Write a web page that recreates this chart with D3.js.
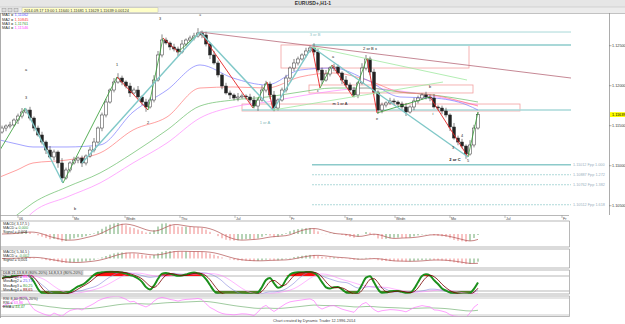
<!DOCTYPE html>
<html>
<head>
<meta charset="utf-8">
<script src="https://cdn.jsdelivr.net/npm/d3@7"></script>
<style>
  body { margin: 0; background: #fff; }
  svg { display: block; font-family: "Liberation Sans", Arial, sans-serif; }
</style>
</head>
<body>
<svg id="chart" width="625" height="324"></svg>
<script>
// hourly closes left to right
const closes = [
  1.11471,1.11496,1.11509,1.11571,1.11621,1.11671,1.11696,1.11596,1.11471,1.11384,
  1.11296,1.11196,1.11109,1.11171,1.11034,1.10846,1.10946,1.11034,1.11071,1.11096,
  1.11034,1.11121,1.11196,1.11296,1.11471,1.11634,1.11796,1.11946,1.12046,1.12096,
  1.12046,1.11996,1.11909,1.11946,1.11859,1.11796,1.11734,1.11821,1.12071,1.12384,
  1.12571,1.12534,1.12484,1.12459,1.12421,1.12521,1.12571,1.12596,1.12621,1.12659,
  1.12634,1.12521,1.12384,1.12284,1.12134,1.11996,1.11909,1.11884,1.11846,1.11859,
  1.11871,1.11859,1.11821,1.11746,1.11821,1.11946,1.12021,1.11884,1.11721,1.11821,
  1.11946,1.12096,1.12221,1.12284,1.12334,1.12384,1.12434,1.12471,1.12421,1.12196,
  1.12071,1.12146,1.12221,1.12234,1.12159,1.12071,1.12009,1.11946,1.11884,1.12034,
  1.12221,1.12334,1.12171,1.11921,1.11696,1.11759,1.11784,1.11809,1.11796,1.11771,
  1.11734,1.11671,1.11734,1.11809,1.11846,1.11884,1.11859,1.11846,1.11734,1.11721,
  1.11684,1.11634,1.11484,1.11346,1.11296,1.11246,1.11146,1.11259,1.11471,1.11639
];
// wick lengths above / below the body, in pips
const wickUp = [
  3,2,4,2,3,5,2,4,2,3, 4,2,5,3,2,6,3,2,4,2, 3,2,4,5,2,3,4,2,5,6,
  3,2,4,3,5,2,4,3,6,5, 7,3,2,4,3,5,2,3,4,6, 3,4,2,5,3,2,4,3,2,5,
  3,2,4,5,3,6,4,3,5,2, 3,4,2,5,3,2,4,3,6,4, 3,5,2,4,3,2,5,3,4,2,
  6,5,3,4,2,3,2,4,3,2, 3,5,2,4,3,2,4,3,5,2, 3,4,2,5,3,4,2,6,4,3
];
const wickDn = [
  2,4,3,2,5,3,2,3,4,2, 3,5,2,4,6,5,2,3,2,4, 5,3,2,3,2,4,3,2,3,2,
  4,3,5,2,3,4,6,2,3,2, 3,2,4,3,5,2,3,2,3,2, 4,3,5,2,3,4,2,5,3,4,
  2,3,4,3,6,2,3,5,4,3, 2,3,2,4,3,2,3,2,4,3, 5,2,3,4,2,5,3,2,3,4,
  2,3,4,3,5,4,3,2,4,3, 3,5,2,4,3,2,3,4,2,3, 4,3,5,2,4,3,6,2,3,2
];

// moving averages, sampled at these candle positions
const maIdx = [-0.5,3.75,7.75,16.25,24.5,32.75,41.25,49.5,57.75,66.25,74.5,82.75,91.25,99.5,107.75,116.25,119];
const ma1 = [1.11321,1.11271,1.11234,1.11234,1.11259,1.11671,1.11946,1.12259,1.12096,1.12009,1.12196,1.12221,1.12071,1.11859,1.11846,1.11759,1.11696];
const ma2 = [1.10859,1.10946,1.11034,1.11071,1.11159,1.11446,1.11609,1.11971,1.11984,1.11971,1.12109,1.12159,1.12071,1.11921,1.11884,1.11784,1.11746];
const ma3 = [1.10221,1.10384,1.10534,1.10734,1.10909,1.11159,1.11446,1.11746,1.11821,1.11859,1.11921,1.11971,1.11971,1.11921,1.11884,1.11821,1.11796];
const ma4 = [1.10009,1.10221,1.10421,1.10609,1.10784,1.11034,1.11284,1.11596,1.11734,1.11796,1.11871,1.11934,1.11971,1.11934,1.11871,1.11784,1.11759];

const priceTicks = [1.125, 1.12, 1.115, 1.11, 1.105];
const lastPrice = 1.11639;
const timeTickIdx = [4, 17.75, 30.75, 44.5, 58.25, 72, 85.75, 98.25, 112, 125.75, 140];
const timeTickText = ["06", "Mo", "Wedn", "Thu", "Jul", "Fr", "Sep", "Wedn", "Mo", "Jul", "Fr"];

// wave drawing: [i1, p1, i2, p2, kind]
const waveLines = [
  [-0.5,1.11196, 5.75,1.11721, "up"],
  [5.75,1.11721, 15.25,1.10784, "teal"],
  [15.25,1.10784, 28.75,1.12109, "up"],
  [28.75,1.12109, 36.5,1.11696, "down"],
  [36.5,1.11696, 40.25,1.12596, "up"],
  [40.25,1.12596, 44,1.12421, "down"],
  [44,1.12421, 49.5,1.12671, "up"],
  [49.5,1.12671, 62.75,1.11721, "down"],
  [62.75,1.11721, 66.25,1.12046, "up"],
  [66.25,1.12046, 67.75,1.11696, "down"],
  [67.75,1.11696, 77.5,1.12484, "teal"],
  [77.5,1.12484, 79.5,1.11971, "down"],
  [79.5,1.11971, 82.5,1.12259, "up"],
  [82.5,1.12259, 87.75,1.11859, "down"],
  [87.75,1.11859, 91.25,1.12346, "up"],
  [91.25,1.12346, 93.75,1.11659, "down"],
  [93.75,1.11659, 107,1.11859, "up"],
  [107,1.11859, 116.5,1.11109, "down"],
  [116.5,1.11109, 119,1.11671, "up"],
  [20,1.11034, 49.5,1.12671, "teal"],
  [49.5,1.12671, 67.75,1.11696, "teal"],
  [77.5,1.12484, 116.5,1.11109, "teal"],
  [67.75,1.11696, 110.25,1.12046, "light"],
  [77.5,1.12484, 116.25,1.12071, "light"],
  [49.5,1.12671, 142.25,1.12096, "trend"]
];
// horizontal levels: [from, to, price, weight]
const levels = [
  [49.5, 142.25, 1.12671, 1],
  [77.5, 142.25, 1.12509, 2.2],
  [60, 142.25, 1.11696, 1.4]
];
const boxes = [
  [69.75, 1.12509, 116.75, 1.12221],
  [76.75, 1.12009, 117.75, 1.11909],
  [60, 1.11771, 129.5, 1.11684]
];
const fibPrices = [1.11012, 1.10887, 1.10762, 1.10512];
const fibText = ["1.11012 Fpp 1.000", "1.10887 Fpp 1.272", "1.10762 Fpp 1.382", "1.10512 Fpp 1.618"];
const waveLabels = [
  [6, 1.11834, "3", "#222"], [6, 1.12184, "a", "#222"], [28.75, 1.12246, "1", "#222"],
  [36.5, 1.11521, "2", "#222"], [39.5, 1.12821, "3", "#222"], [49.5, 1.12871, "5", "#222"],
  [18.25, 1.10446, "b", "#222"], [65.75, 1.11521, "1 or A", "#7fb8b8"],
  [78.25, 1.12621, "3 or B", "#8cc4c4"], [92, 1.12446, "2 or B  x", "#222"],
  [84.5, 1.11759, "m    1 or A", "#222"], [107, 1.11971, "b", "#222"],
  [113.25, 1.11059, "2 or C", "#111"], [116.5, 1.11046, "5", "#222"],
  [115, 1.11359, "4", "#222"], [112.75, 1.11209, "3", "#222"],
  [82.75, 1.12346, "a", "#222"], [79, 1.11921, "c", "#222"],
  [107.75, 1.11634, "i", "#222"], [93.75, 1.11571, "e", "#222"]
];

const svg = d3.select("#chart");
const x = d3.scaleLinear().domain([-0.5, 151.75]).range([0, 609]);
const y = d3.scaleLinear().domain([1.105, 1.125]).range([205.7, 45.7]);
const n = closes.length;
const opens = closes.map((c, i) => i ? closes[i - 1] : 1.11421);
const highs = closes.map((c, i) => Math.max(c, opens[i]) + wickUp[i] * 0.0001);
const lows = closes.map((c, i) => Math.min(c, opens[i]) - wickDn[i] * 0.0001);

// window top bars
svg.append("rect").attr("width", 625).attr("height", 7).attr("fill", "#e6e6e6");
svg.append("text").attr("x", 313).attr("y", 5.3).attr("text-anchor", "middle")
  .attr("font-size", 5).attr("font-weight", "bold").attr("fill", "#333").text("EURUSD+,H1-1");
svg.append("rect").attr("y", 7).attr("width", 625).attr("height", 6).attr("fill", "#ececec");
svg.append("line").attr("x1", 0).attr("x2", 625).attr("y1", 13.5).attr("y2", 13.5).attr("stroke", "#999").attr("stroke-width", 0.6);
svg.append("line").attr("x1", 0).attr("x2", 625).attr("y1", 7).attr("y2", 7).attr("stroke", "#bbb").attr("stroke-width", 0.5);
[2, 8, 14].forEach(px => svg.append("rect").attr("x", px).attr("y", 8.3).attr("width", 4).attr("height", 3.6)
  .attr("fill", "#ddd").attr("stroke", "#888").attr("stroke-width", 0.4));
svg.append("rect").attr("x", 22).attr("y", 7.8).attr("width", 136).attr("height", 4.6)
  .attr("fill", "#ffffc8").attr("stroke", "#aaa").attr("stroke-width", 0.4);
svg.append("text").attr("x", 24).attr("y", 11.5).attr("font-size", 3.9).attr("fill", "#333")
  .text("2014.09.17 13:00   1.11640   1.11681   1.11629   1.11639   0.00124");

// frame
const frame = svg.append("g").attr("stroke", "#888").attr("stroke-width", 0.7);
frame.append("line").attr("x1", 0.5).attr("x2", 0.5).attr("y1", 13).attr("y2", 318);
frame.append("line").attr("x1", 609.5).attr("x2", 609.5).attr("y1", 13).attr("y2", 215);

svg.append("clipPath").attr("id", "mainClip").append("rect")
  .attr("x", 1).attr("y", 14).attr("width", 608).attr("height", 201);
const main = svg.append("g").attr("clip-path", "url(#mainClip)");

boxes.forEach(b => main.append("rect")
  .attr("x", x(b[0])).attr("y", y(b[1])).attr("width", x(b[2]) - x(b[0])).attr("height", y(b[3]) - y(b[1]))
  .attr("fill", "none").attr("stroke", "#f2a0a0").attr("stroke-width", 0.8));

levels.forEach(l => main.append("line")
  .attr("x1", x(l[0])).attr("x2", x(l[1])).attr("y1", y(l[2])).attr("y2", y(l[2]))
  .attr("stroke", "#a9d8d8").attr("stroke-width", l[3]));

fibPrices.forEach((p, i) => {
  main.append("line").attr("x1", x(77.5)).attr("x2", x(142.25)).attr("y1", y(p)).attr("y2", y(p))
    .attr("stroke", "#8ccaca").attr("stroke-width", i ? 0.7 : 1.4)
    .attr("stroke-dasharray", i ? "2,1" : null);
  main.append("text").attr("x", x(142.25) + 2).attr("y", y(p) + 1.4).attr("font-size", 3.8)
    .attr("fill", "#9ab0c0").text(fibText[i]);
});

const maLine = d3.line().x((d, i) => x(maIdx[i])).y(d => y(d)).curve(d3.curveMonotoneX);
[[ma4, "#ff88ff"], [ma3, "#66bb66"], [ma2, "#ff7777"], [ma1, "#7b7bff"]].forEach(([s, c]) =>
  main.append("path").attr("d", maLine(s)).attr("fill", "none").attr("stroke", c).attr("stroke-width", 0.7));

// candles
const cg = main.append("g");
d3.range(n).forEach(i => {
  const up = closes[i] >= opens[i];
  cg.append("line").attr("x1", x(i)).attr("x2", x(i)).attr("y1", y(highs[i])).attr("y2", y(lows[i]))
    .attr("stroke", "#333").attr("stroke-width", 0.6);
  const top = y(Math.max(opens[i], closes[i])), bot = y(Math.min(opens[i], closes[i]));
  cg.append("rect").attr("x", x(i) - 1.5).attr("y", top).attr("width", 3).attr("height", Math.max(0.8, bot - top))
    .attr("fill", up ? "#fff" : "#222").attr("stroke", "#333").attr("stroke-width", 0.5);
});

const waveColor = { up: "#2f9a2f", down: "#e42424", teal: "#80c8c8", light: "#9fe89f", trend: "#b86a7a" };
const waveWidth = { up: 0.8, down: 0.9, teal: 1.4, light: 0.8, trend: 0.8 };
waveLines.forEach(w => main.append("line")
  .attr("x1", x(w[0])).attr("y1", y(w[1])).attr("x2", x(w[2])).attr("y2", y(w[3]))
  .attr("stroke", waveColor[w[4]]).attr("stroke-width", waveWidth[w[4]]));

waveLabels.forEach(l => main.append("text").attr("x", x(l[0])).attr("y", y(l[1]))
  .attr("text-anchor", "middle").attr("font-size", l[2].length > 2 ? 4 : 3.8)
  .attr("font-weight", l[2] === "2 or C" ? "bold" : null).attr("fill", l[3]).text(l[2]));

// MA legend
[["MA1 = ", "1,11062", "#5050ff"], ["MA2 = ", "1,10845", "#ff4040"], ["MA3 = ", "1,11761", "#3a9a3a"], ["MA4 = ", "1,11546", "#ff44ff"]]
  .forEach((m, i) => {
    const t = svg.append("text").attr("x", 2).attr("y", 16.2 + i * 4.3).attr("font-size", 3.9).attr("fill", "#333");
    t.append("tspan").text(m[0]);
    t.append("tspan").attr("fill", m[2]).text(m[1]);
  });

// price axis
priceTicks.forEach(p => {
  svg.append("line").attr("x1", 609).attr("x2", 611.5).attr("y1", y(p)).attr("y2", y(p)).attr("stroke", "#666").attr("stroke-width", 0.5);
  svg.append("text").attr("x", 612).attr("y", y(p) + 1.4).attr("font-size", 3.8).attr("fill", "#333").text(p.toFixed(5));
});
svg.append("rect").attr("x", 610).attr("y", y(lastPrice) - 2.4).attr("width", 15).attr("height", 4.8).attr("fill", "#ffff00");
svg.append("text").attr("x", 612).attr("y", y(lastPrice) + 1.4).attr("font-size", 3.8).attr("fill", "#000").text(lastPrice.toFixed(5));

// time axis
svg.append("line").attr("x1", 0).attr("x2", 569).attr("y1", 215.5).attr("y2", 215.5).attr("stroke", "#999").attr("stroke-width", 0.7);
timeTickIdx.forEach((t, i) => {
  svg.append("line").attr("x1", x(t)).attr("x2", x(t)).attr("y1", 215.5).attr("y2", 218).attr("stroke", "#777").attr("stroke-width", 0.5);
  svg.append("text").attr("x", x(t) + 1).attr("y", 220.2).attr("font-size", 3.6).attr("fill", "#444").text(timeTickText[i]);
});

// indicator helpers
function ema(a, k) { const f = 2 / (k + 1), out = []; a.forEach((v, i) => out.push(i ? v * f + out[i - 1] * (1 - f) : v)); return out; }
function sma(a, k) { return a.map((v, i) => d3.mean(a.slice(Math.max(0, i - k + 1), i + 1))); }
function stoch(k, s) {
  const raw = closes.map((c, i) => {
    const hh = d3.max(highs.slice(Math.max(0, i - k + 1), i + 1)), ll = d3.min(lows.slice(Math.max(0, i - k + 1), i + 1));
    return hh > ll ? (c - ll) / (hh - ll) * 100 : 50;
  });
  return sma(raw, s);
}

function panelFrame(top, bottom) {
  svg.append("line").attr("x1", 0).attr("x2", 569.5).attr("y1", top).attr("y2", top).attr("stroke", "#999").attr("stroke-width", 0.7);
  svg.append("line").attr("x1", 0).attr("x2", 569.5).attr("y1", bottom).attr("y2", bottom).attr("stroke", "#999").attr("stroke-width", 0.7);
  svg.append("line").attr("x1", 569.5).attr("x2", 569.5).attr("y1", top).attr("y2", bottom).attr("stroke", "#999").attr("stroke-width", 0.7);
}
function panelText(x0, y0, rows) {
  rows.forEach((r, i) => {
    const t = svg.append("text").attr("x", x0).attr("y", y0 + i * 4.2).attr("font-size", 3.8).attr("fill", "#333");
    r.forEach(p => t.append("tspan").attr("fill", p[1] || "#333").text(p[0]));
  });
}

function macdPanel(fast, slow, sigN, top, bottom) {
  const ef = ema(closes, fast), es = ema(closes, slow);
  const m = ef.map((v, i) => v - es[i]);
  const sig = sma(m, sigN);
  const ext = d3.max(m.concat(sig), v => Math.abs(v));
  const py = d3.scaleLinear().domain([-ext, ext]).range([bottom - 2, top + 2]);
  const g = svg.append("g");
  m.forEach((v, i) => g.append("line").attr("x1", x(i)).attr("x2", x(i)).attr("y1", py(0)).attr("y2", py(v))
    .attr("stroke", i && v < m[i - 1] ? "#f08888" : "#6fa86f").attr("stroke-width", 1));
  g.append("path").attr("d", d3.line().x((d, i) => x(i)).y(d => py(d))(sig))
    .attr("fill", "none").attr("stroke", "#b05050").attr("stroke-width", 0.7);
}

panelFrame(221, 247);
macdPanel(3, 17, 5, 221, 247);
panelText(3, 225, [[["MACD( 3,17,5 )"]], [["MACD = "], ["0,000", "#3a9a3a"]], [["Signal = 0,001"]]]);

panelFrame(249, 268);
macdPanel(5, 34, 5, 249, 268);
panelText(3, 253, [[["MACD( 5,34,5 )"]], [["MACD = "], ["-0,002", "#3a9a3a"]], [["Signal = 0,001"]]]);

// DLB panel
panelFrame(270, 294);
const yD = d3.scaleLinear().domain([0, 100]).range([296, 271]);
svg.append("clipPath").attr("id", "dlbClip").append("rect").attr("x", 1).attr("y", 270.5).attr("width", 568).attr("height", 23.2);
const dg = svg.append("g").attr("clip-path", "url(#dlbClip)");
[80, 20].forEach(v => dg.append("line").attr("x1", 0).attr("x2", 569).attr("y1", yD(v)).attr("y2", yD(v)).attr("stroke", "#999").attr("stroke-width", 0.7));
const kFast = stoch(10, 3), dFast = sma(kFast, 3);
const kSlow = stoch(18, 6), dSlow = sma(kSlow, 6);
dg.append("path").attr("d", d3.area().x((d, i) => x(i)).y0(yD(80)).y1(d => yD(Math.max(80, d)))(kFast))
  .attr("fill", "#ff1010").attr("stroke", "none");
dg.append("path").attr("d", d3.area().x((d, i) => x(i)).y0(yD(20)).y1(d => yD(Math.min(20, d)))(kFast))
  .attr("fill", "#557f25").attr("stroke", "none");
const dl = d3.line().x((d, i) => x(i)).y(d => yD(d)).curve(d3.curveMonotoneX);
dg.append("path").attr("d", dl(kSlow)).attr("fill", "none").attr("stroke", "#8888dd").attr("stroke-width", 0.6);
dg.append("path").attr("d", dl(dSlow)).attr("fill", "none").attr("stroke", "#ff88ff").attr("stroke-width", 0.6);
dg.append("path").attr("d", dl(kFast)).attr("fill", "none").attr("stroke", "#1b8f1b").attr("stroke-width", 2);
dg.append("path").attr("d", dl(dFast)).attr("fill", "none").attr("stroke", "#7a0000").attr("stroke-width", 0.8);
svg.append("rect").attr("x", 1).attr("y", 270.6).attr("width", 82).attr("height", 4.4).attr("fill", "#e4e4e4").attr("stroke", "#999").attr("stroke-width", 0.4);
panelText(3, 274, [[["DLB 21,13,8,8 (80%-20%) 14,8,3,3 (80%-20%)"]],
  [["MovAvg1 = "], ["88,82", "#ff44ff"]], [["MovAvg2 = "], ["25,73", "#5050ff"]],
  [["MovAvg3 = "], ["80,25", "#2f9a2f"]], [["MovAvg4 = "], ["88,65", "#8b0000"]]]);

// RSI panel
panelFrame(296, 316.5);
const gains = closes.map((c, i) => i ? Math.max(0, c - closes[i - 1]) : 0);
const losses = closes.map((c, i) => i ? Math.max(0, closes[i - 1] - c) : 0);
const ag = [], al = [];
gains.forEach((g, i) => { ag.push(i ? (ag[i - 1] * 7 + g) / 8 : 0.0001); al.push(i ? (al[i - 1] * 7 + losses[i]) / 8 : 0.0001); });
const rsi = ag.map((g, i) => 100 - 100 / (1 + g / al[i]));
const rsiEma = ema(rsi, 30);
const yR = d3.scaleLinear().domain([20, 80]).range([315, 298]);
svg.append("clipPath").attr("id", "rsiClip").append("rect").attr("x", 1).attr("y", 296.5).attr("width", 568).attr("height", 19.8);
const rg = svg.append("g").attr("clip-path", "url(#rsiClip)");
[80, 20].forEach(v => rg.append("line").attr("x1", 0).attr("x2", 569).attr("y1", yR(v)).attr("y2", yR(v)).attr("stroke", "#aaa").attr("stroke-width", 0.6));
rg.append("path").attr("d", d3.line().x((d, i) => x(i)).y(d => yR(d))(rsiEma)).attr("fill", "none").attr("stroke", "#77b377").attr("stroke-width", 0.7);
rg.append("path").attr("d", d3.line().x((d, i) => x(i)).y(d => yR(d))(rsi)).attr("fill", "none").attr("stroke", "#ff77ff").attr("stroke-width", 0.7);
panelText(3, 300, [[["RSI 8,30 (80%-20%)"]], [["RSI = "], ["63,86", "#ff44ff"]], [["EMA = "], ["44,47", "#2f9a2f"]]]);

svg.append("text").attr("x", 273).attr("y", 322).attr("font-size", 3.9).attr("fill", "#444")
  .text("Chart created by Dynamic Trader  12.1996-2014");
</script>
</body>
</html>
